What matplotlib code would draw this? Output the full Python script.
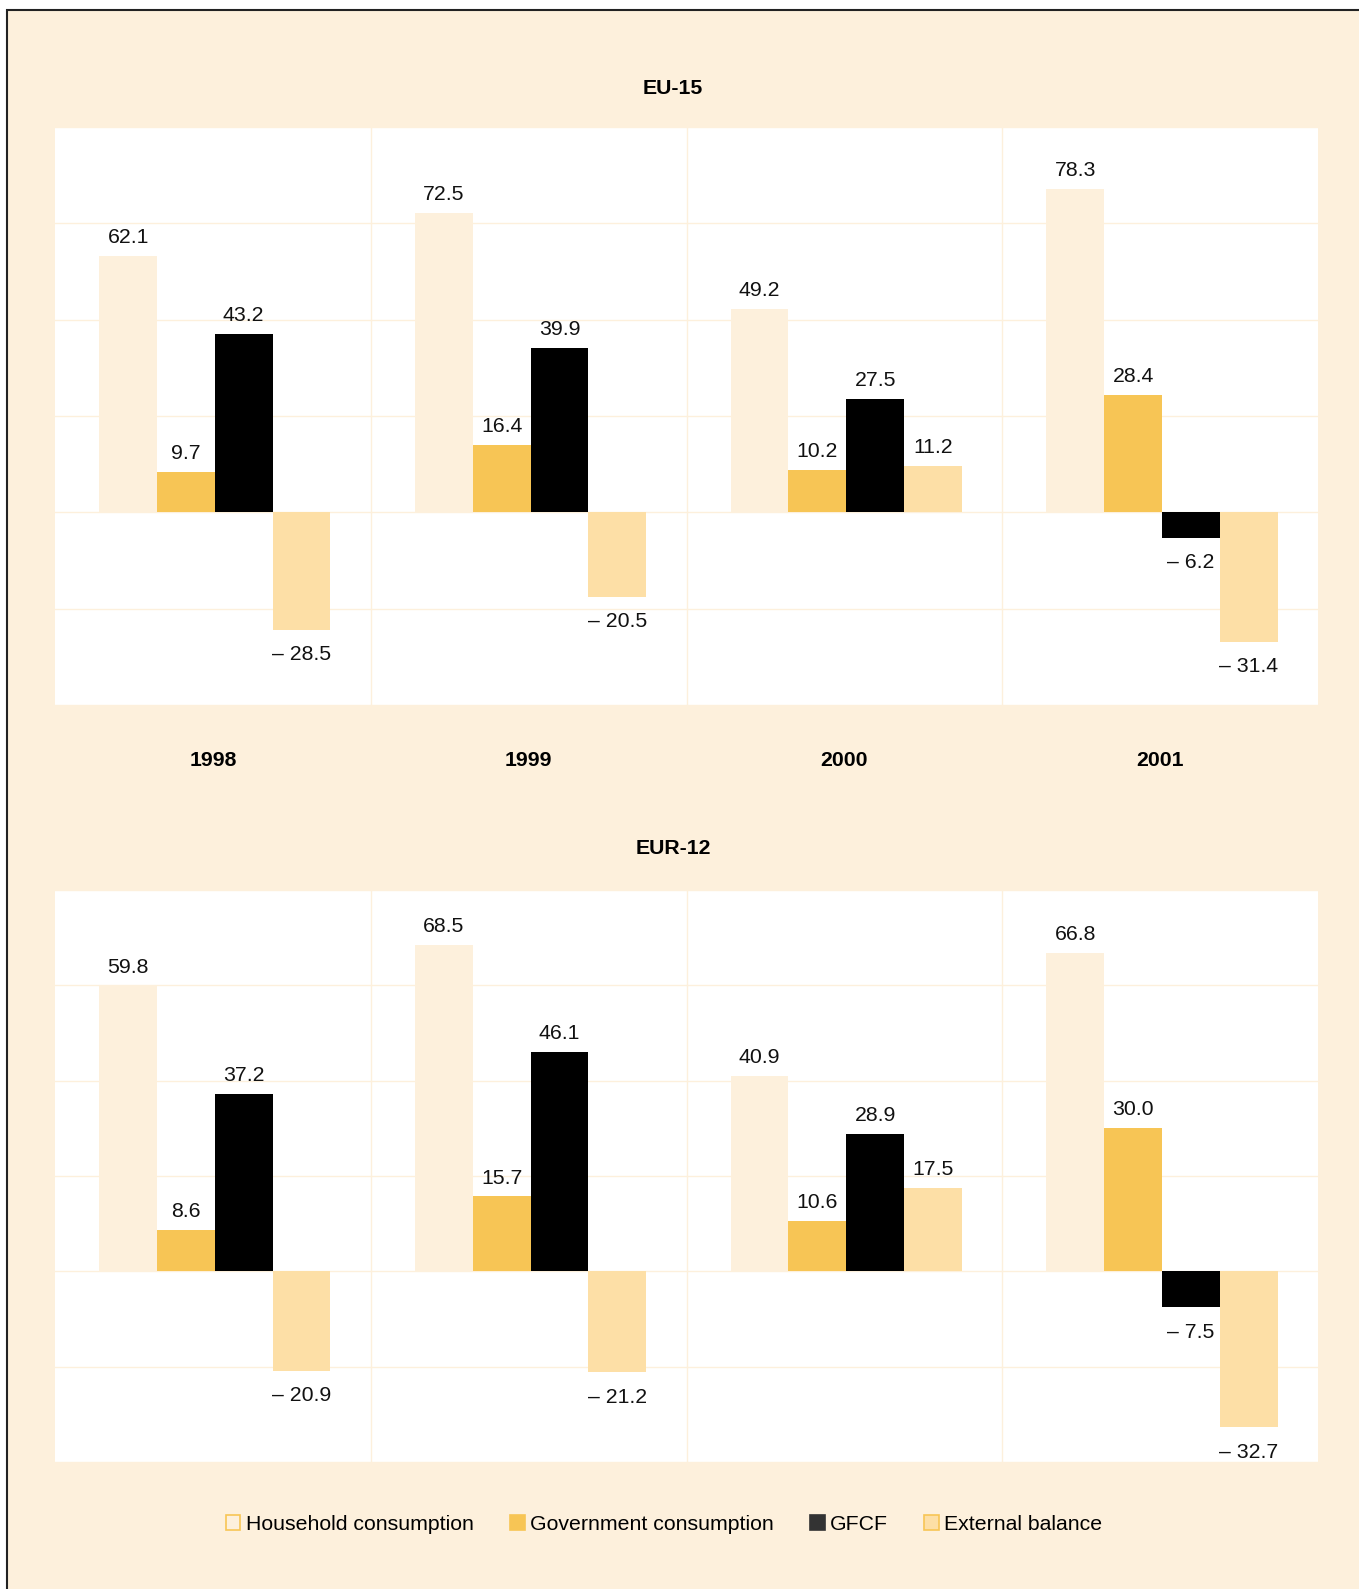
import matplotlib
matplotlib.use("Agg")
import matplotlib.pyplot as plt
from matplotlib.patches import Rectangle, Patch
from matplotlib.transforms import blended_transform_factory
import numpy as np

plt.rcParams['font.family'] = ['Liberation Sans', 'DejaVu Sans']

years = ["1998", "1999", "2000", "2001"]
series = ["Household consumption", "Government consumption", "GFCF", "External balance"]

eu15_household = [62.1, 72.5, 49.2, 78.3]
eu15_government = [9.7, 16.4, 10.2, 28.4]
eu15_gfcf = [43.2, 39.9, 27.5, -6.2]
eu15_external = [-28.5, -20.5, 11.2, -31.4]

eur12_household = [59.8, 68.5, 40.9, 66.8]
eur12_government = [8.6, 15.7, 10.6, 30.0]
eur12_gfcf = [37.2, 46.1, 28.9, -7.5]
eur12_external = [-20.9, -21.2, 17.5, -32.7]

CREAM = "#FDF0DC"
GOLD = "#F7C555"
PALE = "#FDDFA6"
bar_colors = [CREAM, GOLD, "#000000", PALE]
FS = 15.3

W, H = 1359, 1589
fig = plt.figure(figsize=(W / 100, H / 100), dpi=100, facecolor="white")

# cream sheet with a rule along the top and left edges
fig.patches.append(Rectangle((7 / W, -0.1), 1.2, 1.1 - 10 / H, transform=fig.transFigure,
                             facecolor=CREAM, edgecolor="#222222", linewidth=1.5, zorder=-10))


def fmt(v):
    return f"{v:.1f}" if v >= 0 else f"\u2013 {abs(v):.1f}"


def panel(rect, data, ylim, step):
    ax = fig.add_axes(rect)
    ax.set_facecolor("white")
    for s in ax.spines.values():
        s.set_visible(False)
    ax.set_xticks([])
    ax.set_yticks([])
    ax.set_xlim(-0.5, 3.5)
    ax.set_ylim(*ylim)
    for gy in np.arange(0, ylim[1] + 0.01, step):
        ax.axhline(gy, color=CREAM, lw=1.0, zorder=0)
    for gy in np.arange(-step, ylim[0] - 0.01, -step):
        ax.axhline(gy, color=CREAM, lw=1.0, zorder=0)
    for gx in [0.5, 1.5, 2.5]:
        ax.axvline(gx, color=CREAM, lw=1.0, zorder=0)

    w = 0.183
    x = np.arange(len(years))
    for i, (vals, col) in enumerate(zip(data, bar_colors)):
        xs = x + (i - 1.5) * w + 0.006
        ax.bar(xs, vals, width=w, color=col, zorder=2, linewidth=0)
        for xi, v in zip(xs, vals):
            off = 13.3 if v >= 0 else -18.0
            ax.annotate(fmt(v), (xi, v), xytext=(0, off), textcoords="offset points",
                        ha="center", va="center", fontsize=FS, color="#111111")
    return ax


ax1 = panel([55 / W, 1 - 705 / H, 1263 / W, 578 / H],
            [eu15_household, eu15_government, eu15_gfcf, eu15_external],
            (-46.67, 93.33), 23.333)
ax2 = panel([55 / W, 1 - 1462 / H, 1263 / W, 572 / H],
            [eur12_household, eur12_government, eur12_gfcf, eur12_external],
            (-40, 80), 20)

fig.text(673 / W, 1 - 88 / H, "EU-15", ha="center", va="center", fontsize=FS, fontweight="bold")
fig.text(673 / W, 1 - 848 / H, "EUR-12", ha="center", va="center", fontsize=FS, fontweight="bold")

year_tf = blended_transform_factory(ax1.transData, fig.transFigure)
for i, yr in enumerate(years):
    fig.text(i, 1 - 760 / H, yr, transform=year_tf, ha="center", va="center",
             fontsize=FS, fontweight="bold")

handles = [
    Patch(facecolor=CREAM, edgecolor=GOLD, linewidth=1.2),
    Patch(facecolor=GOLD, edgecolor=GOLD, linewidth=1.2),
    Patch(facecolor="#333333", edgecolor="#333333", linewidth=1.2),
    Patch(facecolor=PALE, edgecolor=GOLD, linewidth=1.2),
]
fig.legend(handles, series, loc="center", bbox_to_anchor=(664 / W, 1 - 1524 / H), ncol=4,
           frameon=False, fontsize=FS, handlelength=0.7, handleheight=0.7,
           handletextpad=0.25, columnspacing=1.7)

fig.savefig("out.png", dpi=100, facecolor="white")
